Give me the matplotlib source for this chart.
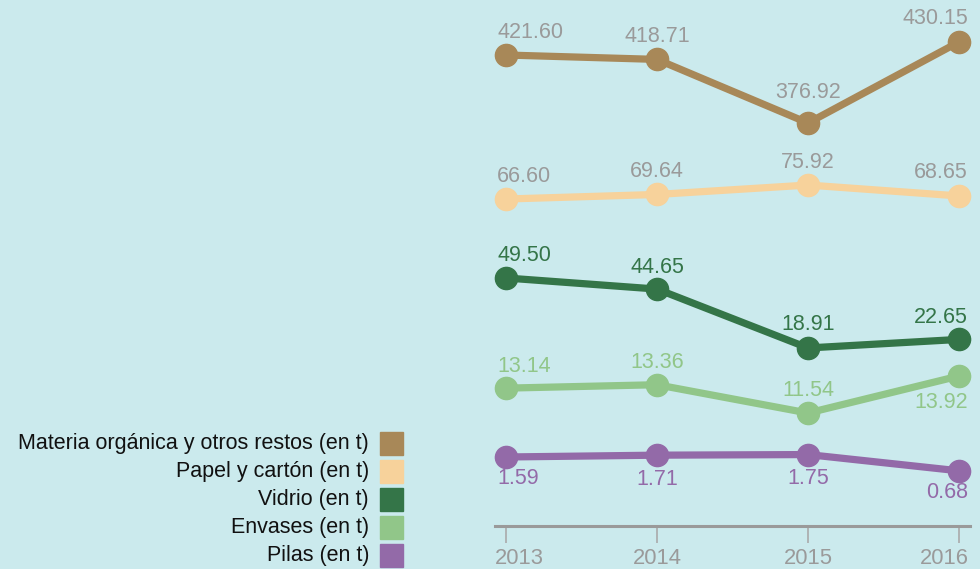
import matplotlib
matplotlib.use("Agg")
import matplotlib.pyplot as plt
from matplotlib.patches import Rectangle
from matplotlib.transforms import ScaledTranslation

plt.rcParams["font.family"] = ["Liberation Sans", "DejaVu Sans"]

YEARS = [2013, 2014, 2015, 2016]

SERIES = [
    "Materia orgánica y otros restos (en t)",
    "Papel y cartón (en t)",
    "Vidrio (en t)",
    "Envases (en t)",
    "Pilas (en t)",
]
ORGANICA = [421.60, 418.71, 376.92, 430.15]
PAPEL = [66.60, 69.64, 75.92, 68.65]
VIDRIO = [49.50, 44.65, 18.91, 22.65]
ENVASES = [13.14, 13.36, 11.54, 13.92]
PILAS = [1.59, 1.71, 1.75, 0.68]
VALUES = [ORGANICA, PAPEL, VIDRIO, ENVASES, PILAS]

COLORS = ["#a88858", "#f7d29b", "#347548", "#91c689", "#936aa8"]
LABEL_COLORS = ["#9a9a9a", "#9a9a9a", "#347548", "#91c689", "#936aa8"]

# each series lives in its own band: y-limits of a full-height axes
BAND_YLIM = [
    (83.9, 457.74),
    (-179.7, 199.1),
    (-77.7, 171.0),
    (1.51, 38.10),
    (-5.78, 31.66),
]
# vertical label offsets in pixels (+ above, - below)
LABEL_DY = [
    [23, 23, 31, 23],
    [23, 23, 23, 23],
    [22, 22, 23, 22],
    [22, 22, 23, -26],
    [-22, -24, -24, -22],
]

BG = "#cbeaed"
AXIS_GREY = "#9a9a9a"

W, H = 980, 569
fig = plt.figure(figsize=(W / 100, H / 100), dpi=100, facecolor=BG)

x0, x1 = 495 / W, 970 / W
xlim = (2012.927, 2016.073)

# x axis: bottom spine sits at pixel row 526
ax = fig.add_axes([x0, 1 - 526 / H, x1 - x0, 526 / H])
ax.set_facecolor("none")
ax.set_xlim(*xlim)
ax.set_ylim(0, 1)
for s in ["top", "left", "right"]:
    ax.spines[s].set_visible(False)
ax.spines["bottom"].set_color(AXIS_GREY)
ax.spines["bottom"].set_linewidth(2.2)
ax.set_yticks([])
ax.set_xticks(YEARS)
ax.set_xticklabels([str(y) for y in YEARS])
ax.tick_params(axis="x", length=12, width=1.2, color="#aaaaaa",
               labelcolor=AXIS_GREY, labelsize=15.8, pad=4)
# first/last year labels are kept inside the axis span
tl = ax.get_xticklabels()
tl[0].set_ha("left")
tl[0].set_transform(tl[0].get_transform() + ScaledTranslation(-0.11, 0, fig.dpi_scale_trans))
tl[-1].set_ha("right")
tl[-1].set_transform(tl[-1].get_transform() + ScaledTranslation(0.10, 0, fig.dpi_scale_trans))

n = len(YEARS)
for vals, col, lcol, ylim, dys in zip(VALUES, COLORS, LABEL_COLORS, BAND_YLIM, LABEL_DY):
    a = fig.add_axes([x0, 0, x1 - x0, 1])
    a.set_xlim(*xlim)
    a.set_ylim(*ylim)
    a.axis("off")
    a.plot(YEARS, vals, color=col, lw=5.2, marker="o", ms=16,
           solid_capstyle="round", clip_on=False)
    for i, (yr, v) in enumerate(zip(YEARS, vals)):
        if i == 0:
            ha, dx = "left", -9
        elif i == n - 1:
            ha, dx = "right", 9
        else:
            ha, dx = "center", 0
        a.annotate(f"{v:.2f}", (yr, v), xytext=(dx * 0.72, dys[i] * 0.72),
                   textcoords="offset points", ha=ha, va="center",
                   color=lcol, fontsize=15.5, annotation_clip=False)

# legend: labels right-aligned next to colour squares
sq = 23
for i, (name, col) in enumerate(zip(SERIES, COLORS)):
    top = 432 + i * 28
    fig.patches.append(Rectangle((380 / W, 1 - (top + sq) / H), sq / W, sq / H,
                                 transform=fig.transFigure, color=col))
    fig.text(369 / W, 1 - (top + sq / 2) / H, name, ha="right", va="center",
             fontsize=15.5, color="#111111")

fig.savefig("out.png", dpi=100, facecolor=BG)
